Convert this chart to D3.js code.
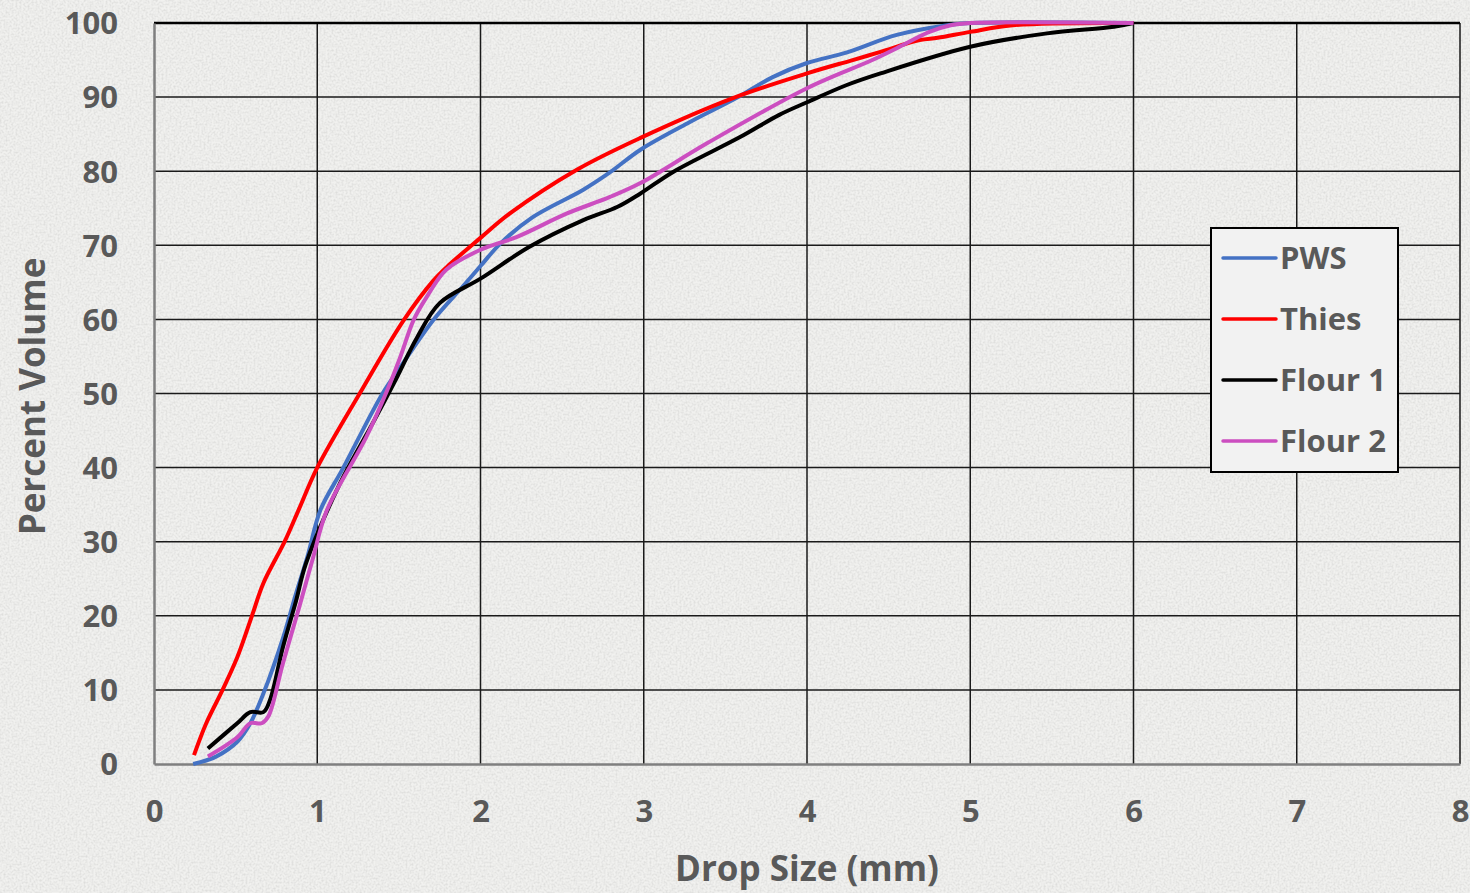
<!DOCTYPE html>
<html>
<head>
<meta charset="utf-8">
<script src="https://cdn.jsdelivr.net/npm/d3@7"></script>
<style>
  body { margin: 0; background: #efefed; }
  svg { display: block; }
</style>
</head>
<body>
<svg id="chart" width="1470" height="893"></svg>
<script>
// drop size (mm) / percent volume
const pwsX = [0.24, 0.38, 0.51, 0.59, 0.67, 0.79, 0.87, 0.94, 1.02, 1.16, 1.4, 1.51, 1.71, 1.89, 2.0, 2.12, 2.32, 2.63, 2.79, 2.98, 3.28, 3.57, 3.79, 4.0, 4.24, 4.55, 4.86, 5.0, 6.0];
const pwsY = [0, 1, 3, 5.5, 9.5, 17, 23, 28, 34.3, 40, 50, 53.6, 59.9, 64.4, 67.2, 70.2, 73.8, 77.5, 79.8, 82.9, 86.6, 89.9, 92.7, 94.6, 96, 98.4, 99.7, 100, 100];

const thiesX = [0.245, 0.32, 0.42, 0.51, 0.6, 0.67, 0.8, 0.89, 1.0, 1.26, 1.53, 1.71, 1.81, 2.0, 2.18, 2.59, 2.98, 3.55, 4.0, 4.28, 4.45, 4.69, 4.8, 5.0, 5.26, 6.0];
const thiesY = [1.2, 5.5, 10, 14.4, 20, 24.4, 30, 34.5, 40, 50, 59.9, 65.2, 67.4, 71, 74.3, 80.2, 84.5, 89.9, 93.2, 95, 96.1, 97.7, 98, 98.8, 99.7, 100];

const flour1X = [0.33, 0.51, 0.59, 0.67, 0.71, 0.79, 0.87, 0.93, 1.14, 1.34, 1.47, 1.61, 1.75, 2.0, 2.3, 2.63, 2.84, 2.98, 3.18, 3.59, 3.83, 4.0, 4.24, 4.45, 5.0, 5.47, 5.88, 6.0];
const flour1Y = [2.1, 5.5, 7, 7, 8.6, 15.8, 22, 27, 37.9, 46, 51.4, 57.5, 62.2, 65.5, 69.8, 73.4, 75.2, 77, 79.9, 84.6, 87.6, 89.3, 91.6, 93.2, 96.8, 98.6, 99.5, 100];

const flour2X = [0.33, 0.51, 0.59, 0.66, 0.70, 0.79, 0.89, 0.97, 1.06, 1.3, 1.43, 1.51, 1.59, 1.67, 1.79, 2.0, 2.22, 2.53, 2.79, 2.98, 3.39, 4.0, 4.4, 4.55, 4.75, 4.88, 5.0, 6.0];
const flour2Y = [1, 3.6, 5.5, 5.5, 6.4, 13.6, 21.2, 27.5, 34.3, 44.1, 50.5, 55, 59.9, 63, 66.7, 69.4, 71.1, 74.3, 76.5, 78.4, 83.8, 91.2, 95, 96.6, 98.8, 99.7, 100, 100];

const seriesNames = ["PWS", "Thies", "Flour 1", "Flour 2"];
const seriesColors = ["#4472c4", "#ff0000", "#000000", "#cc4ec0"];
const xTicks = [0, 1, 2, 3, 4, 5, 6, 7, 8];
const yTicks = [0, 10, 20, 30, 40, 50, 60, 70, 80, 90, 100];

const series = [
    { name: seriesNames[0], color: seriesColors[0], pts: pwsX.map((x, i) => [x, pwsY[i]]) },
    { name: seriesNames[1], color: seriesColors[1], pts: thiesX.map((x, i) => [x, thiesY[i]]) },
    { name: seriesNames[2], color: seriesColors[2], pts: flour1X.map((x, i) => [x, flour1Y[i]]) },
    { name: seriesNames[3], color: seriesColors[3], pts: flour2X.map((x, i) => [x, flour2Y[i]]) }
];

const svg = d3.select("#chart");
const margin = { top: 23, right: 10, bottom: 129, left: 154 };
const width = +svg.attr("width") - margin.left - margin.right;
const height = +svg.attr("height") - margin.top - margin.bottom;
const textColor = "#595959";
const font = "'Open Sans', sans-serif";

// speckled paper background
const defs = svg.append("defs");
const noise = defs.append("filter").attr("id", "noise").attr("x", 0).attr("y", 0).attr("width", "100%").attr("height", "100%");
noise.append("feTurbulence").attr("type", "fractalNoise").attr("baseFrequency", 0.5).attr("numOctaves", 2).attr("seed", 4);
noise.append("feColorMatrix").attr("type", "matrix")
    .attr("values", "0 0 0 0 0.55  0 0 0 0 0.55  0 0 0 0 0.54  0 0 0 -1.8 1.15");
svg.append("rect").attr("width", 1470).attr("height", 893).attr("fill", "#f1f1ef");
svg.append("rect").attr("width", 1470).attr("height", 893).attr("filter", "url(#noise)").attr("opacity", 0.5);

const g = svg.append("g").attr("transform", `translate(${margin.left},${margin.top})`);

const x = d3.scaleLinear().domain([0, 8]).range([0, width]);
const y = d3.scaleLinear().domain([0, 100]).range([height, 0]);

// grid
g.append("g")
    .selectAll("line")
    .data(xTicks.slice(1))
    .join("line")
    .attr("x1", d => x(d)).attr("x2", d => x(d))
    .attr("y1", 0).attr("y2", height)
    .attr("stroke", "#1a1a1a").attr("stroke-width", 1.5);

g.append("g")
    .selectAll("line")
    .data(yTicks.slice(1))
    .join("line")
    .attr("x1", 0).attr("x2", width)
    .attr("y1", d => y(d)).attr("y2", d => y(d))
    .attr("stroke", "#1a1a1a").attr("stroke-width", 1.5);

g.append("line").attr("x1", 0).attr("x2", width).attr("y1", 0).attr("y2", 0)
    .attr("stroke", "#000").attr("stroke-width", 2.5);

// axes
const xAxis = g.append("g")
    .attr("transform", `translate(0,${height})`)
    .call(d3.axisBottom(x).tickValues(xTicks).tickSize(0).tickPadding(36).tickFormat(d3.format("d")));
const yAxis = g.append("g")
    .call(d3.axisLeft(y).tickValues(yTicks).tickSize(0).tickPadding(36).tickFormat(d3.format("d")));

[xAxis, yAxis].forEach(a => {
    a.select(".domain").attr("stroke", "#7f7f7f").attr("stroke-width", 2.5);
    a.selectAll("text")
        .attr("fill", textColor)
        .style("font-family", font)
        .style("font-weight", 700)
        .style("font-size", "31px");
});
yAxis.selectAll("text").attr("dy", "0.35em");

// curves
const line = d3.line()
    .x(d => x(d[0]))
    .y(d => y(d[1]))
    .curve(d3.curveCatmullRom.alpha(0.5));

g.selectAll(".series")
    .data(series)
    .join("path")
    .attr("class", "series")
    .attr("fill", "none")
    .attr("stroke", d => d.color)
    .attr("stroke-width", 4)
    .attr("stroke-linejoin", "round")
    .attr("d", d => line(d.pts));

// axis titles
svg.append("text")
    .attr("x", margin.left + x(4))
    .attr("y", 881)
    .attr("text-anchor", "middle")
    .attr("fill", textColor)
    .style("font-family", font)
    .style("font-weight", 700)
    .style("font-size", "35px")
    .text("Drop Size (mm)");

svg.append("text")
    .attr("transform", `translate(45,${margin.top + height / 2 + 3}) rotate(-90)`)
    .attr("text-anchor", "middle")
    .attr("fill", textColor)
    .style("font-family", font)
    .style("font-weight", 700)
    .style("font-size", "35px")
    .text("Percent Volume");

// legend
const legend = svg.append("g").attr("transform", "translate(1211,228)");
legend.append("rect")
    .attr("width", 187).attr("height", 244)
    .attr("fill", "#f2f2f2").attr("stroke", "#000").attr("stroke-width", 2);

const item = legend.selectAll(".item")
    .data(series)
    .join("g")
    .attr("class", "item")
    .attr("transform", (d, i) => `translate(0,${30 + i * 61})`);

item.append("line")
    .attr("x1", 12).attr("x2", 65)
    .attr("stroke", d => d.color).attr("stroke-width", 3.5).attr("stroke-linecap", "round");

item.append("text")
    .attr("x", 69).attr("dy", "0.35em")
    .attr("fill", textColor)
    .style("font-family", font)
    .style("font-weight", 700)
    .style("font-size", "31px")
    .text(d => d.name);
</script>
</body>
</html>
